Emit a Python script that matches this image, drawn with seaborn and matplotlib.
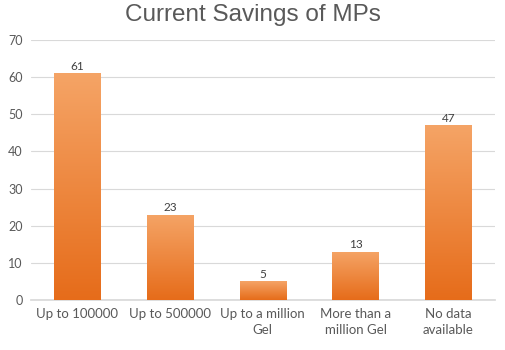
import numpy as np
import pandas as pd
import matplotlib
matplotlib.use("Agg")
import matplotlib.pyplot as plt
import seaborn as sns
from matplotlib.colors import LinearSegmentedColormap

categories = ["Up to 100000", "Up to 500000", "Up to a million\nGel",
              "More than a\nmillion Gel", "No data\navailable"]
values = [61, 23, 5, 13, 47]
yticks = [0, 10, 20, 30, 40, 50, 60, 70]

sns.set_theme(style="white")
plt.rcParams['font.family'] = ['Lato', 'DejaVu Sans']

fig = plt.figure(figsize=(5.05, 3.5), dpi=100)
ax = fig.add_axes([0.061, 0.143, 0.919, 0.743])

df = pd.DataFrame({"cat": categories, "val": values})
sns.barplot(data=df, x="cat", y="val", ax=ax, color="#ED7D31", width=0.5,
            saturation=1, zorder=2)

ax.set_ylim(0, 70)
ax.set_xlim(-0.5, 4.5)
ax.set_yticks(yticks)
ax.yaxis.grid(True, color="#D9D9D9", linewidth=0.8, zorder=0)
ax.set_axisbelow(True)
for s in ["top", "right", "left"]:
    ax.spines[s].set_visible(False)
ax.spines["bottom"].set_color("#D9D9D9")
ax.tick_params(axis="y", length=0, labelsize=9, colors="#595959", pad=6)
ax.tick_params(axis="x", length=0, labelsize=9.5, colors="#595959", pad=6)
for lbl in ax.get_xticklabels():
    lbl.set_linespacing(1.35)
ax.set_xlabel("")
ax.set_ylabel("")

cmap = LinearSegmentedColormap.from_list("og", ["#E66C1A", "#F5A466"])
grad = np.linspace(0, 1, 256).reshape(-1, 1)
for patch in list(ax.patches):
    x0, y0 = patch.get_x(), patch.get_y()
    w, h = patch.get_width(), patch.get_height()
    im = ax.imshow(grad, cmap=cmap, aspect="auto", origin="lower",
                   extent=[x0, x0 + w, y0, y0 + h], zorder=3)
    im.set_clip_path(patch)
    patch.set_facecolor("none")
    patch.set_edgecolor("none")

for i, v in enumerate(values):
    ax.text(i, v + 0.4, str(v), ha="center", va="bottom", fontsize=8.5,
            color="#404040")

ax.set_xlim(-0.5, 4.5)
ax.set_ylim(0, 70)
fig.text(0.5, 0.99, "Current Savings of MPs", ha="center", va="top",
         fontsize=17.5, color="#595959", family=["Liberation Sans", "DejaVu Sans"])

fig.savefig("out.png", dpi=100)
